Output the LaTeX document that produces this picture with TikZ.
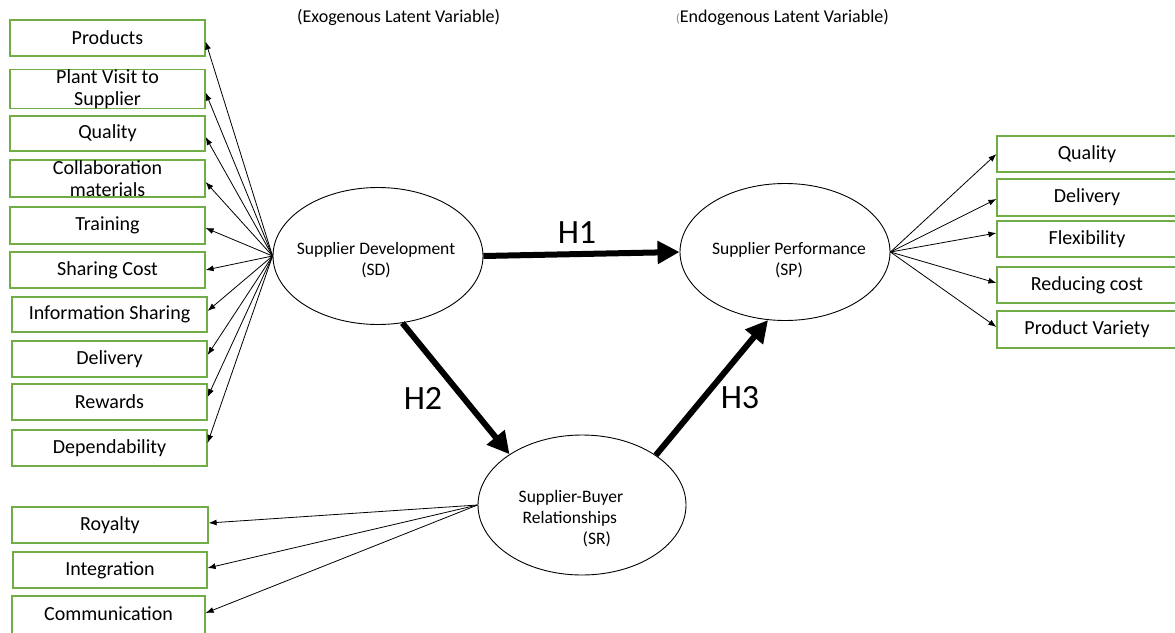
\documentclass[tikz,border=0pt]{standalone}
\usepackage{fontspec}
\setmainfont{Carlito}
\usetikzlibrary{arrows.meta,shapes.geometric}
\definecolor{boxgreen}{HTML}{70AD47}
\begin{document}
\begin{tikzpicture}[x=1pt,y=-1pt,
  box/.style={draw=boxgreen,line width=1.2pt,minimum width=195pt,minimum height=36pt,inner sep=0pt,align=center,font=\fontsize{20}{22}\selectfont},
  latent/.style={draw,ellipse,line width=0.9pt,minimum width=210pt,minimum height=137pt,inner sep=0pt},
  ltext/.style={align=center,inner sep=0pt,font=\fontsize{17.5}{21}\selectfont},
  thinarrow/.style={line width=0.8pt,-{Latex[length=8pt,width=6pt]}},
  thickarrow/.style={line width=6pt,-{Triangle[length=22pt,width=22pt]}},
  hlabel/.style={inner sep=0pt,font=\fontsize{34}{40}\selectfont},
  header/.style={anchor=west,inner sep=0pt,font=\fontsize{18}{21}\selectfont}]
\useasboundingbox (0,0) rectangle (1175,632);
\fill[white] (0,0) rectangle (1175,632);

% headers
\node[header] (hexo) at (297,17) {(Exogenous Latent Variable)};
\node[header] (hendo) at (676,17) {{\color{gray}\fontsize{12}{14}\selectfont(}Endogenous Latent Variable)};

% latent variables
\node[latent] (SD) at (378,256) {};
\node[ltext] (SDt) at (376,260) {Supplier Development\\(SD)};
\node[latent] (SP) at (785,252) {};
\node[ltext] (SPt) at (789,260) {Supplier Performance\\(SP)};
\node[latent,minimum width=208pt,minimum height=140pt] (SR) at (582,505) {};
\node[ltext,align=left] (SRt) at (571,519) {Supplier-Buyer\\\hspace*{4pt}Relationships\\\hspace*{64pt}(SR)};

% left indicator boxes (SD)
\node[box] (p1) at (107.5,38) {Products};
\node[box] (p2) at (107.5,89) {Plant Visit to\\Supplier};
\node[box,minimum height=35pt] (p3) at (107.5,133.5) {Quality};
\node[box,minimum height=37pt] (p4) at (107.5,178.5) {Collaboration\\materials};
\node[box,minimum height=37pt] (p5) at (107.5,225.5) {Training};
\node[box] (p6) at (107.5,270) {Sharing Cost};
\node[box,minimum height=35pt] (p7) at (109.5,314.5) {Information Sharing};
\node[box] (p8) at (109.5,359) {Delivery};
\node[box] (p9) at (109.5,402) {Rewards};
\node[box] (p10) at (109.5,448) {Dependability};

% left indicator boxes (SR)
\node[box,minimum width=196pt] (r1) at (110,525) {Royalty};
\node[box,minimum width=194pt] (r2) at (110,570) {Integration};
\node[box,minimum width=193pt,minimum height=42pt] (r3) at (108.5,617) {\raisebox{6pt}{Communication}};

% right indicator boxes (SP)
\node[box,minimum width=180pt] (q1) at (1087,154) {Quality};
\node[box,minimum width=180pt,minimum height=37pt] (q2) at (1087,197.5) {Delivery};
\node[box,minimum width=180pt] (q3) at (1087,239) {Flexibility};
\node[box,minimum width=180pt] (q4) at (1087,285) {Reducing cost};
\node[box,minimum width=180pt,minimum height=37pt] (q5) at (1087,329.5) {Product Variety};

% SD indicator arrows
\draw[thinarrow] (SD.west) -- ([yshift=-3.5pt]p1.east);
\draw[thinarrow] (SD.west) -- ([yshift=-3.5pt]p2.east);
\draw[thinarrow] (SD.west) -- ([yshift=-3.5pt]p3.east);
\draw[thinarrow] (SD.west) -- ([yshift=-3.5pt]p4.east);
\draw[thinarrow] (SD.west) -- ([yshift=-2.5pt]p5.east);
\draw[thinarrow] (SD.west) -- (p6.east);
\draw[thinarrow] (SD.west) -- ([yshift=3.5pt]p7.east);
\draw[thinarrow] (SD.west) -- ([yshift=4pt]p8.east);
\draw[thinarrow] (SD.west) -- ([yshift=5pt]p9.east);
\draw[thinarrow] (SD.west) -- ([yshift=5pt]p10.east);

% SR indicator arrows
\draw[thinarrow] (SR.west) -- ([yshift=2pt]r1.east);
\draw[thinarrow] (SR.west) -- ([yshift=2pt]r2.east);
\draw[thinarrow] (SR.west) -- ([yshift=4pt]r3.east);

% SP indicator arrows
\draw[thinarrow] (SP.east) -- (q1.west);
\draw[thinarrow] (SP.east) -- ([yshift=-1.5pt]q2.west);
\draw[thinarrow] (SP.east) -- ([yshift=6pt]q3.west);
\draw[thinarrow] (SP.east) -- ([yshift=2pt]q4.west);
\draw[thinarrow] (SP.east) -- ([yshift=2.5pt]q5.west);

% structural paths
\draw[thickarrow] (SD.east) -- (SP.west);
\draw[thickarrow] (SD.-70) -- (SR.145);
\draw[thickarrow] (SR.34) -- (SP.-104);
\node[hlabel] (H1) at (577,233) {H1};
\node[hlabel] (H2) at (423,398) {H2};
\node[hlabel] (H3) at (740,398) {H3};
\end{tikzpicture}
\end{document}
